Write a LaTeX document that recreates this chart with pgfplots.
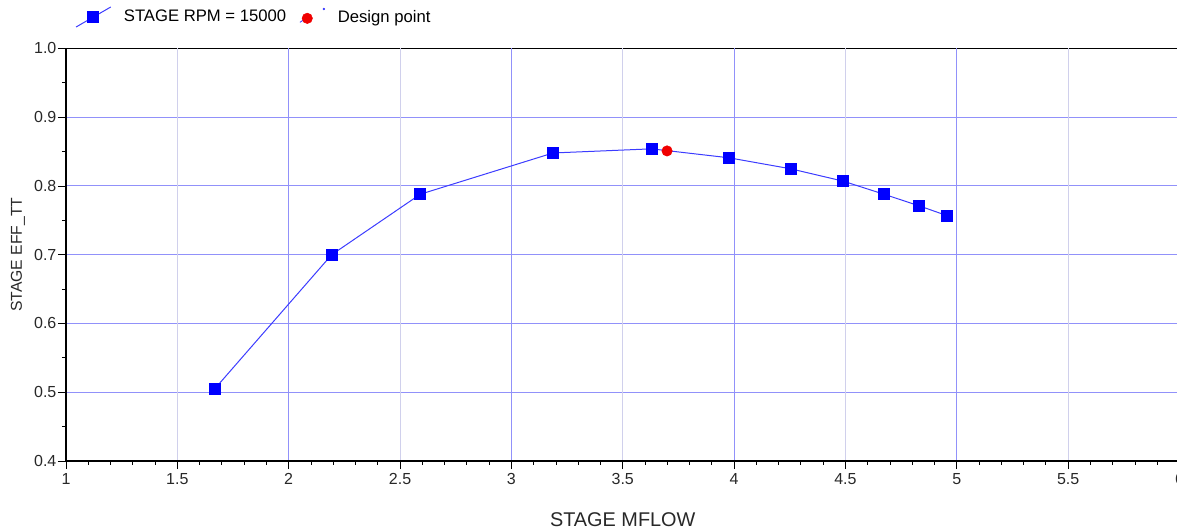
\documentclass[border=0pt]{standalone}
\usepackage{fontspec}
\setmainfont{Liberation Sans}
\usepackage{pgfplots}
\pgfplotsset{compat=1.18}
\definecolor{gridblue}{RGB}{145,145,250}
\definecolor{gridlav}{RGB}{208,208,236}
\definecolor{lineblue}{RGB}{60,60,255}
\definecolor{markblue}{RGB}{0,0,255}
\definecolor{dpred}{RGB}{240,0,0}
\definecolor{ticktext}{RGB}{40,40,40}
\begin{document}
\begin{tikzpicture}
\begin{axis}[
  scale only axis,
  width=835.1pt, height=309.4pt,
  xmin=1, xmax=6, ymin=0.4, ymax=1.0,
  xtick={1,1.5,...,6},
  ytick={0.4,0.5,...,1.0},
  minor x tick num=4, minor y tick num=1,
  tick align=outside,
  xtick pos=bottom, ytick pos=left,
  major tick length=6pt, minor tick length=3pt,
  every tick/.style={black, line width=0.6pt},
  ymajorgrids,
  major grid style={gridblue, line width=0.75pt},
  axis line style={black, line width=1.1pt},
  clip=false,
  /pgf/number format/assume math mode=true,
  ticklabel style={font=\fontsize{12}{14}\selectfont, text=ticktext},
  yticklabel style={inner sep=1pt, /pgf/number format/.cd, fixed, fixed zerofill, precision=1},
  xticklabel style={/pgf/number format/.cd, fixed},
  xlabel={STAGE MFLOW},
  ylabel={STAGE EFF\_TT},
  x label style={at={(axis description cs:0.5,-0.143)}, anchor=center, font=\fontsize{14.9}{17}\selectfont, text=ticktext},
  y label style={at={(axis description cs:-0.0431,0.5)}, anchor=center, font=\fontsize{11.8}{14}\selectfont, text=ticktext},
  legend columns=2,
  legend style={at={(axis description cs:0,1)}, anchor=west, xshift=4pt, yshift=23.6pt,
    draw=none, fill=none, font=\fontsize{12.5}{15}\selectfont,
    /tikz/every odd column/.append style={column sep=7.5pt},
    /tikz/every even column/.append style={column sep=8pt}},
]
\pgfplotsinvokeforeach{1.5,2.5,3.5,4.5,5.5}{
  \draw[gridlav, line width=0.75pt] (axis cs:#1,0.4) -- (axis cs:#1,1.0);
}
\pgfplotsinvokeforeach{2,3,4,5}{
  \draw[gridblue, line width=0.75pt] (axis cs:#1,0.4) -- (axis cs:#1,1.0);
}
\addplot[lineblue, line width=0.75pt, mark=square*, mark size=4.1pt,
  mark options={solid, fill=markblue, draw=markblue},
  legend image code/.code={
    \draw[lineblue, line width=0.75pt] (0pt,-7.5pt) -- (26pt,7.5pt);
    \fill[markblue] (13pt,0pt) ++(-4.1pt,-4.1pt) rectangle ++(8.2pt,8.2pt);
  }]
  coordinates {
  (1.668,0.505) (2.193,0.700) (2.591,0.788) (3.187,0.848) (3.630,0.854)
  (3.977,0.841) (4.254,0.825) (4.490,0.807) (4.673,0.788) (4.832,0.771) (4.955,0.757)
  };
\addlegendentry{STAGE RPM = 15000}
\addplot[only marks, mark=*, mark size=3.9pt, mark options={fill=dpred, draw=dpred},
  legend image code/.code={
    \draw[lineblue, line width=0.6pt] (0pt,-4pt) -- (3pt,-2pt);
    \fill[dpred] (5.5pt,-1pt) circle (3.9pt);
    \fill[lineblue] (18pt,6pt) circle (0.7pt);
  }]
  coordinates {(3.699,0.851)};
\addlegendentry{Design point}
\draw[black, line width=1.5pt] (rel axis cs:0,1) -- (rel axis cs:0,0) -- (rel axis cs:1,0);
\coordinate (O) at (rel axis cs:0,0);
\end{axis}
\pgfresetboundingbox
\path ([shift={(-49.5pt,-52.5pt)}]O) rectangle ++(882.75pt,398.25pt);
\end{tikzpicture}
\end{document}
